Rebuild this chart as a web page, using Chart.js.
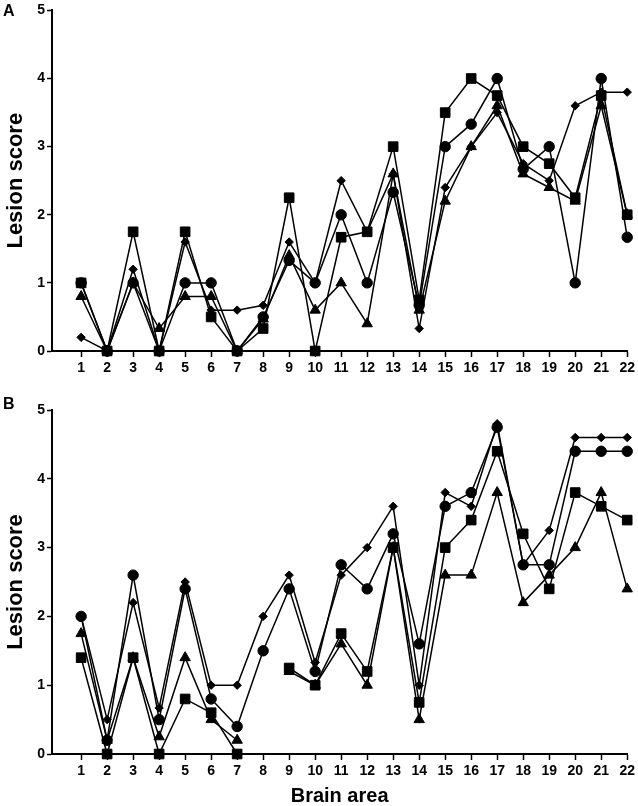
<!DOCTYPE html>
<html>
<head>
<meta charset="utf-8">
<script src="https://cdn.jsdelivr.net/npm/chart.js@4"></script>
<style>
  body { margin: 0; background: #fff; width: 638px; height: 806px; position: relative; overflow: hidden; }
  .panel { position: absolute; left: 0; }
  .tag { position: absolute; left: 3px; font: bold 16px 'Liberation Sans', Arial, sans-serif; line-height: 16px; color: #000; }
</style>
</head>
<body>
<div class="panel" style="top:0"><canvas id="chartA" width="638" height="390"></canvas></div>
<div class="panel" style="top:390px"><canvas id="chartB" width="638" height="416"></canvas></div>
<div class="tag" style="top:3px">A</div>
<div class="tag" style="top:396px">B</div>
<script>
// brain areas on the x axis
const areas = [1, 2, 3, 4, 5, 6, 7, 8, 9, 10, 11, 12, 13, 14, 15, 16, 17, 18, 19, 20, 21, 22];
const yTicks = [0, 1, 2, 3, 4, 5];

// panel A
const squareA   = [1, 0, 1.75, 0, 1.75, 0.5, 0, 0.33, 2.25, 0, 1.67, 1.75, 3, 0.75, 3.5, 4, 3.75, 3, 2.75, 2.25, 3.75, 2];
const circleA   = [1, 0, 1, 0, 1, 1, 0, 0.5, 1.33, 1, 2, 1, 2.33, 0.67, 3, 3.33, 4, 2.67, 3, 1, 4, 1.67];
const triangleA = [0.8, 0, 1, 0.33, 0.8, 0.8, 0, 0.47, 1.4, 0.6, 1, 0.4, 2.6, 0.6, 2.2, 3, 3.6, 2.6, 2.4, 2.2, 3.6, 2];
const diamondA  = [0.2, 0, 1.2, 0, 1.6, 0.6, 0.6, 0.67, 1.6, 1, 2.5, 1.75, 2.6, 0.33, 2.4, 3, 3.5, 2.75, 2.5, 3.6, 3.8, 3.8];

// panel B (null = no value for that area)
const squareB   = [1.4, 0, 1.4, 0, 0.8, 0.6, 0, null, 1.25, 1, 1.75, 1.2, 3, 0.75, 3, 3.4, 4.4, 3.2, 2.4, 3.8, 3.6, 3.4];
const circleB   = [2, 0.2, 2.6, 0.5, 2.4, 0.8, 0.4, 1.5, 2.4, 1.2, 2.75, 2.4, 3.2, 1.6, 3.6, 3.8, 4.75, 2.75, 2.75, 4.4, 4.4, 4.4];
const triangleB = [1.75, 0.2, 1.4, 0.25, 1.4, 0.5, 0.2, null, 1.2, 1, 1.6, 1, 3, 0.5, 2.6, 2.6, 3.8, 2.2, 2.6, 3, 3.8, 2.4];
const diamondB  = [2, 0.5, 2.2, 0.67, 2.5, 1, 1, 2, 2.6, 1.33, 2.6, 3, 3.6, 1, 3.8, 3.6, 4.8, 2.75, 3.25, 4.6, 4.6, 4.6];

Chart.defaults.font.family = "'Liberation Sans', Arial, sans-serif";
Chart.defaults.color = '#000';

function toPoints(vals) {
    return areas.map((a, i) => ({ x: a, y: vals[i] }));
}

function series(vals, style, radius, order) {
    return {
        data: toPoints(vals),
        borderColor: '#000',
        backgroundColor: '#000',
        borderWidth: 1.5,
        pointStyle: style,
        pointRadius: radius,
        pointHoverRadius: radius,
        pointBorderWidth: 1,
        order: order,
        clip: false,
        spanGaps: false
    };
}

function makeChart(id, sq, ci, tr, di, axisHeight, showXTitle) {
    const ctx = document.getElementById(id);
    new Chart(ctx, {
        type: 'line',
        data: {
            datasets: [
                series(sq, 'rect', 6.8, 0),
                series(ci, 'circle', 5.2, 1),
                series(tr, 'triangle', 6, 2),
                series(di, 'rectRot', 4.2, 3)
            ]
        },
        options: {
            responsive: false,
            animation: false,
            layout: { padding: { top: showXTitle ? 20 : 8, right: 8, left: 0, bottom: 0 } },
            plugins: { legend: { display: false }, tooltip: { enabled: false } },
            scales: {
                x: {
                    type: 'linear',
                    min: -0.12,
                    max: 22,
                    afterBuildTicks: (scale) => { scale.ticks = areas.map(v => ({ value: v })); },
                    afterFit: (scale) => { scale.height = axisHeight; },
                    grid: { drawOnChartArea: false, tickLength: 6, tickColor: '#000', tickWidth: 1.5 },
                    border: { color: '#000', width: 2 },
                    ticks: { padding: 3, font: { size: 14, weight: 'bold' }, autoSkip: false, maxRotation: 0 },
                    title: {
                        display: showXTitle,
                        text: 'Brain area',
                        font: { size: 20, weight: 'bold', lineHeight: 1 },
                        padding: { top: 0, bottom: 0 }
                    }
                },
                y: {
                    min: 0,
                    max: 5,
                    afterBuildTicks: (scale) => { scale.ticks = yTicks.map(v => ({ value: v })); },
                    afterFit: (scale) => { scale.width = 52; },
                    grid: { drawOnChartArea: false, tickLength: 5, tickColor: '#000', tickWidth: 1.5 },
                    border: { color: '#000', width: 2 },
                    ticks: { padding: 2, font: { size: 14, weight: 'bold' } },
                    title: {
                        display: true,
                        text: 'Lesion score',
                        font: { size: 22, weight: 'bold', lineHeight: 1 },
                        padding: { top: 5, bottom: 0 }
                    }
                }
            }
        }
    });
}

makeChart('chartA', squareA, circleA, triangleA, diamondA, 39, false);
makeChart('chartB', squareB, circleB, triangleB, diamondB, 52, true);
</script>
</body>
</html>
